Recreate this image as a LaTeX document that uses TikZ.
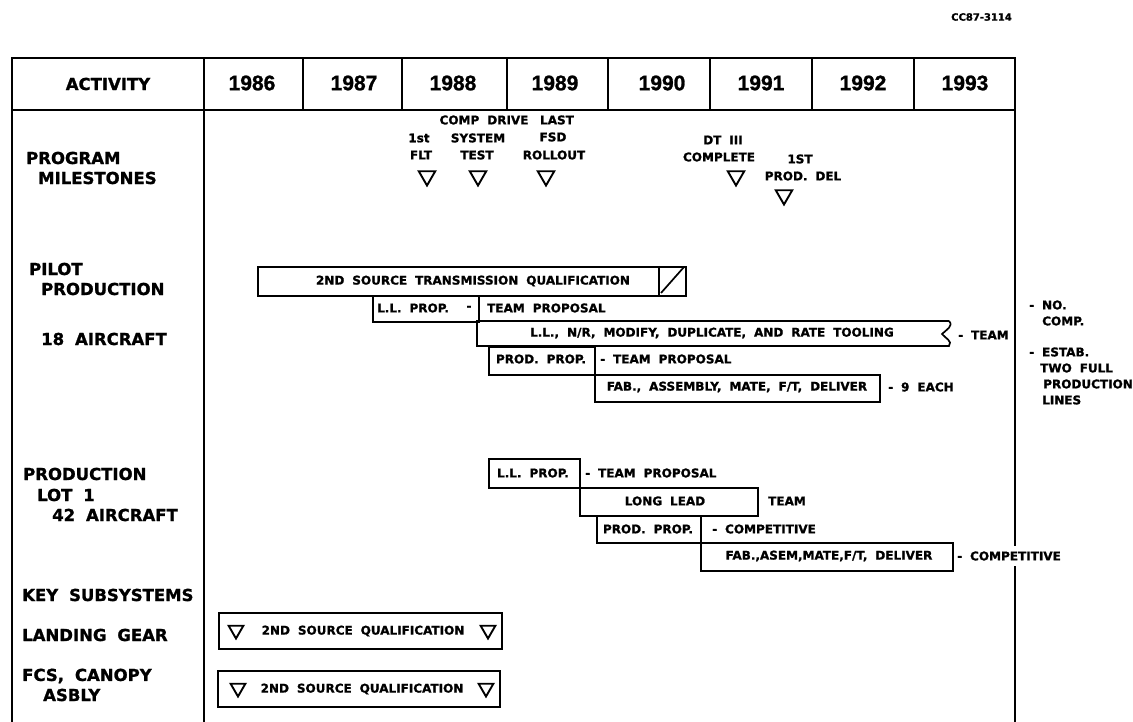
\documentclass[tikz,border=0pt]{standalone}
\usepackage{fontspec}
\setmainfont{DejaVu Sans}[WordSpace=1.9, BoldFeatures={FakeBold=1.2}]
\newfontfamily\yearfont{Liberation Sans}[BoldFeatures={FakeBold=1.2}]
\usetikzlibrary{shapes.geometric}
\tikzset{
  lbl/.style={font=\fontsize{16.5}{18}\selectfont\bfseries, anchor=west, inner sep=0pt},
  sm/.style={font=\fontsize{12}{13}\selectfont\bfseries, inner sep=0pt},
  smw/.style={sm, anchor=west},
  yr/.style={font=\yearfont\fontsize{21}{22}\selectfont\bfseries, inner sep=0pt},
  frameline/.style={line width=2pt},
  barline/.style={line width=1.7pt},
  barbox/.style={draw, line width=1.7pt, rectangle, inner sep=0pt, anchor=north west},
  tri/.style={draw, regular polygon, regular polygon sides=3, shape border rotate=180,
              minimum size=19pt, inner sep=0pt, line width=1.9pt},
  tris/.style={tri, minimum size=17pt},
}
\begin{document}
\begin{tikzpicture}[x=1pt,y=-1pt]
\useasboundingbox (0,0) rectangle (1133,722);

% frame
\draw[frameline] (12,722) -- (12,58) -- (1015,58) -- (1015,722);
\draw[frameline] (12,110) -- (1015,110);
\draw[frameline] (204,58) -- (204,722);
\foreach \x in {303,402,507,608,710,812,914} \draw[frameline] (\x,58) -- (\x,110);

\node[font=\fontsize{10}{10}\selectfont\bfseries, inner sep=0pt, anchor=east] (code) at (1012,17) {CC87-3114};

% header
\node[lbl, anchor=center] (act) at (108,84) {ACTIVITY};
\node[yr] (y86) at (252,83) {1986};
\node[yr] (y87) at (354,83) {1987};
\node[yr] (y88) at (453,83) {1988};
\node[yr] (y89) at (555,83) {1989};
\node[yr] (y90) at (662,83) {1990};
\node[yr] (y91) at (761,83) {1991};
\node[yr] (y92) at (863,83) {1992};
\node[yr] (y93) at (965,83) {1993};

% left labels
\node[lbl] (l1) at (26,158) {PROGRAM};
\node[lbl] (l2) at (38,178) {MILESTONES};
\node[lbl] (l3) at (29,269) {PILOT};
\node[lbl] (l4) at (41,289) {PRODUCTION};
\node[lbl] (l5) at (41,339) {18 AIRCRAFT};
\node[lbl] (l6) at (23,474) {PRODUCTION};
\node[lbl] (l7) at (37,495) {LOT 1};
\node[lbl] (l8) at (52,515) {42 AIRCRAFT};
\node[lbl] (l9) at (22,595) {KEY SUBSYSTEMS};
\node[lbl] (l10) at (22,635) {LANDING GEAR};
\node[lbl] (l11) at (22,676) {FCS, CANOPY};
\node[lbl] (l12) at (43,695) {ASBLY};

% milestones
\node[sm] (m1) at (484,120) {COMP DRIVE};
\node[sm] (m2) at (557,120) {LAST};
\node[sm] (m3) at (419,138) {1st};
\node[sm] (m4) at (478,138) {SYSTEM};
\node[sm] (m5) at (553,137) {FSD};
\node[sm] (m6) at (421,155) {FLT};
\node[sm] (m7) at (477,155) {TEST};
\node[sm] (m8) at (554,155) {ROLLOUT};
\node[sm] (m9) at (723,140) {DT III};
\node[sm] (m10) at (719,157) {COMPLETE};
\node[sm] (m11) at (800,159) {1ST};
\node[sm] (m12) at (803,176) {PROD. DEL};
\node[tri] (t1) at (427,176) {};
\node[tri] (t2) at (478,176) {};
\node[tri] (t3) at (546,176) {};
\node[tri] (t4) at (736,176) {};
\node[tri] (t5) at (784,195) {};

% pilot production
\node[barbox, minimum width=428pt, minimum height=29pt] (src) at (257,266) {};
\draw[barline] (659,266) -- (659,295);
\draw[barline] (661,293) -- (684,267);
\node[sm] (srct) at (473,281) {2ND SOURCE TRANSMISSION QUALIFICATION};

\node[barbox, minimum width=106pt, minimum height=26pt] (llp) at (372,295) {};
\node[smw] (llpt) at (377,308) {L.L. PROP.};
\node[sm] (llpd) at (469,308) {-};
\node[smw] (llpn) at (487,308) {TEAM PROPOSAL};

\coordinate (nrA) at (477,321);
\coordinate (nrB) at (949,321);
\coordinate (nrC) at (949,346);
\coordinate (nrD) at (477,346);
\draw[barline] (nrB) -- (nrA) -- (nrD) -- (nrC)
   .. controls (953,341) and (945,338) .. (942,334)
   .. controls (946,330) and (954,326) .. (nrB);
\node[sm] (nrt) at (712,333) {L.L., N/R, MODIFY, DUPLICATE, AND RATE TOOLING};
\node[smw] (nrn) at (958,335) {- TEAM};

\node[barbox, minimum width=106pt, minimum height=28pt] (ppp) at (488,346) {};
\node[sm] (pppt) at (541,359) {PROD. PROP.};
\node[smw] (pppn) at (600,359) {- TEAM PROPOSAL};

\node[barbox, minimum width=285pt, minimum height=27pt] (fab) at (594,374) {};
\node[sm] (fabt) at (737,387) {FAB., ASSEMBLY, MATE, F/T, DELIVER};
\node[smw] (fabn) at (888,387) {- 9 EACH};

% right notes
\node[smw] (r1) at (1029,305) {- NO.};
\node[smw] (r2) at (1042,321) {COMP.};
\node[smw] (r3) at (1029,352) {- ESTAB.};
\node[smw] (r4) at (1040,368) {TWO FULL};
\node[smw] (r5) at (1043,384) {PRODUCTION};
\node[smw] (r6) at (1042,400) {LINES};

% production lot 1
\node[barbox, minimum width=91pt, minimum height=29pt] (l1p) at (488,458) {};
\node[sm] (l1pt) at (533,473) {L.L. PROP.};
\node[smw] (l1pn) at (585,473) {- TEAM PROPOSAL};

\node[barbox, minimum width=178pt, minimum height=28pt] (ll) at (579,487) {};
\node[sm] (llt) at (665,501) {LONG LEAD};
\node[smw] (lln) at (768,501) {TEAM};

\node[barbox, minimum width=104pt, minimum height=27pt] (p1p) at (596,515) {};
\node[sm] (p1pt) at (648,529) {PROD. PROP.};
\node[smw] (p1pn) at (712,529) {- COMPETITIVE};

\node[barbox, minimum width=252pt, minimum height=28pt] (f1) at (700,542) {};
\node[sm] (f1t) at (829,556) {FAB.,ASEM,MATE,F/T, DELIVER};
\node[smw, fill=white, inner ysep=5pt] (f1n) at (957,556) {- COMPETITIVE};

% key subsystems
\node[barbox, minimum width=283pt, minimum height=36pt] (lg) at (218,612) {};
\node[tris] (lg1) at (236,630) {};
\node[tris] (lg2) at (488,630) {};
\node[sm] (lgt) at (363,631) {2ND SOURCE QUALIFICATION};

\node[barbox, minimum width=282pt, minimum height=36pt] (fc) at (217,670) {};
\node[tris] (fc1) at (238,688) {};
\node[tris] (fc2) at (486,688) {};
\node[sm] (fct) at (362,689) {2ND SOURCE QUALIFICATION};
\end{tikzpicture}
\end{document}
